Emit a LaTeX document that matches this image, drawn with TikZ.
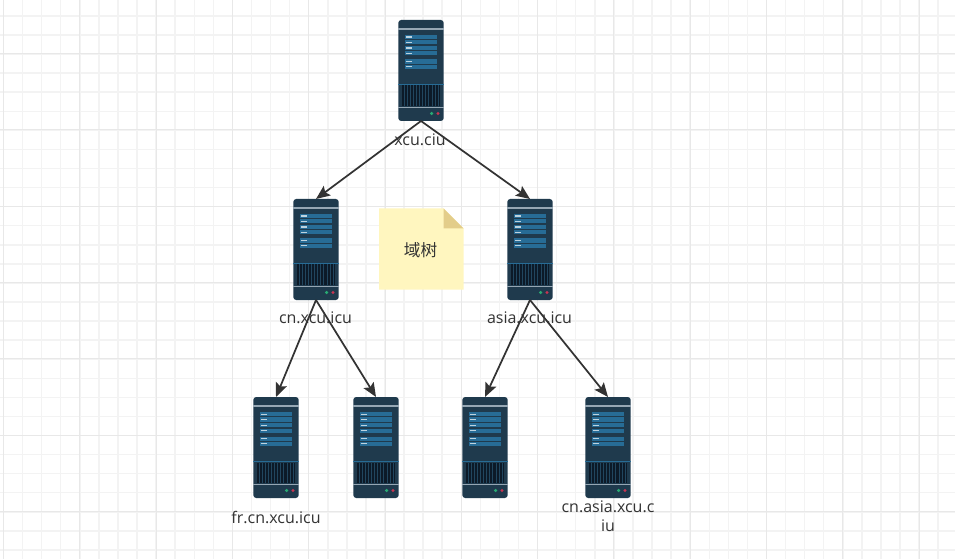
\documentclass[tikz,border=0pt]{standalone}
\usepackage{fontspec}
\setmainfont{Open Sans}
\newfontfamily\cjkfont{Noto Sans CJK SC}
\usepackage{xcolor}
\usetikzlibrary{arrows.meta}
\definecolor{RackBody}{RGB}{31, 58, 77}
\definecolor{RackLine}{RGB}{150, 167, 180}
\definecolor{RackBlue}{RGB}{39, 108, 150}
\definecolor{RackVent}{RGB}{12, 26, 40}
\definecolor{RackGreen}{RGB}{40, 170, 115}
\definecolor{RackRed}{RGB}{200, 52, 82}
\definecolor{NoteYellow}{RGB}{255, 246, 191}
\definecolor{NoteFold}{RGB}{227, 205, 138}
\definecolor{GridMajor}{RGB}{232, 232, 232}
\definecolor{GridMinor}{RGB}{243, 243, 243}
\definecolor{LinkGray}{RGB}{51, 51, 51}
\tikzset{
  serverbox/.style={minimum width=45pt*0.75, minimum height=101pt*0.75, inner sep=0pt, outer sep=0pt},
  serverlabel/.style={font=\fontsize{12pt}{14.25pt}\selectfont, text=LinkGray, inner sep=0pt, align=center},
  link/.style={draw=LinkGray, line width=1.3pt, -{Stealth[length=10.5pt, width=8.8pt, inset=2pt]}},
  majorline/.style={GridMajor, line width=1.1pt},
  minorline/.style={GridMinor, line width=1.1pt}
}

\begin{document}
\begin{tikzpicture}[x=0.75pt, y=-0.75pt]
\useasboundingbox (0,0) rectangle (955,559);

% Background grid
\fill[white] (0,0) rectangle (955,559);
\foreach \i in {0,...,49} {
    \draw[minorline] ({3.5+19.075*\i},0) -- ++(0,559);
}
\foreach \i in {0,...,30} {
    \draw[minorline] (0,{-3.2+19.075*\i}) -- ++(955,0);
}
\foreach \i in {0,...,12} {
    \pgfmathsetmacro\gridx{floor(3.5+76.3*\i)+0.5}
    \draw[majorline] (\gridx,0) -- ++(0,559);
}
\foreach \i in {0,...,6} {
    \pgfmathsetmacro\gridy{floor(53.5+76.3*\i)+0.5}
    \draw[majorline] (0,\gridy) -- ++(955,0);
}

% Servers
\node[serverbox] (root) at (421,70.5) {};
\node[serverbox] (cn) at (316,249.5) {};
\node[serverbox] (asia) at (530,249.5) {};
\node[serverbox] (fr) at (276,447.5) {};
\node[serverbox] (cnb) at (376,447.5) {};
\node[serverbox] (asiab) at (485,447.5) {};
\node[serverbox] (cnasia) at (608,447.5) {};

\foreach \srv in {root, cn, asia, fr, cnb, asiab, cnasia} {
    \begin{scope}[shift={(\srv.center)}]
    \fill[RackBody, rounded corners=2.2pt] (-22.7,-50.5) rectangle (22.7,50.5);
    \fill[RackLine] (-22.7,-42.3) rectangle (22.7,-40.8);
    \fill[RackLine] (-22.7,36.2) rectangle (22.7,37.8);
    \draw[RackBlue, line width=0.5pt] (-22.7,13.5) -- (22.7,13.5);
    % Drive bays
    \foreach \ya/\yb in {-35.5/-31.2, -30.3/-26, -24.5/-20.3, -19/-15, -11/-6.8, -5.7/-1.4} {
        \fill[RackBlue] (-16,\ya) rectangle (16,\yb);
    }
    \foreach \ya in {-34, -28.7, -23, -17.5, -9.6, -4.3} {
        \fill[white!70!RackBlue] (-15,\ya) rectangle (-9.5,{\ya+1.2});
    }
    % Vent
    \fill[RackVent] (-19.3,15) rectangle (19.3,35.5);
    \foreach \i in {0,...,11} {
        \fill[RackBody!75!RackBlue] ({-17.4+3.1*\i},15) rectangle ++(0.9,20.5);
    }
    % Status lights
    \fill[RackGreen] (10.7,43) circle (1.3pt);
    \fill[RackRed] (17,43) circle (1.3pt);
    \end{scope}
}

% Connections
\draw[link] (root.south) -- (cn.north);
\draw[link] (root.south) -- (asia.north);
\draw[link] (cn.south) -- (fr.north);
\draw[link] (cn.south) -- (cnb.north);
\draw[link] (asia.south) -- (asiab.north);
\draw[link] (asia.south) -- (cnasia.north);

% Labels
\node[serverlabel] (rootlabel) at (420,140) {xcu.ciu};
\node[serverlabel] (cnlabel) at (315.5,318) {cn.xcu.icu};
\node[serverlabel] (asialabel) at (529.5,318) {asia.xcu.icu};
\node[serverlabel] (frlabel) at (276,517) {fr.cn.xcu.icu};
\node[serverlabel] (cnasialabel) at (608,516) {cn.asia.xcu.c\\iu};

% Note
\fill[NoteYellow] (379,208.5) -- (443.5,208.5) -- (463.5,228.5) -- (463.5,289.5) -- (379,289.5) -- cycle;
\fill[NoteFold] (443.5,208.5) -- (463.5,228.5) -- (443.5,228.5) -- cycle;
\node[font=\cjkfont\fontsize{12.5pt}{14pt}\selectfont, text=LinkGray, inner sep=0pt] (tree) at (420.5,250) {域树};

\end{tikzpicture}
\end{document}
